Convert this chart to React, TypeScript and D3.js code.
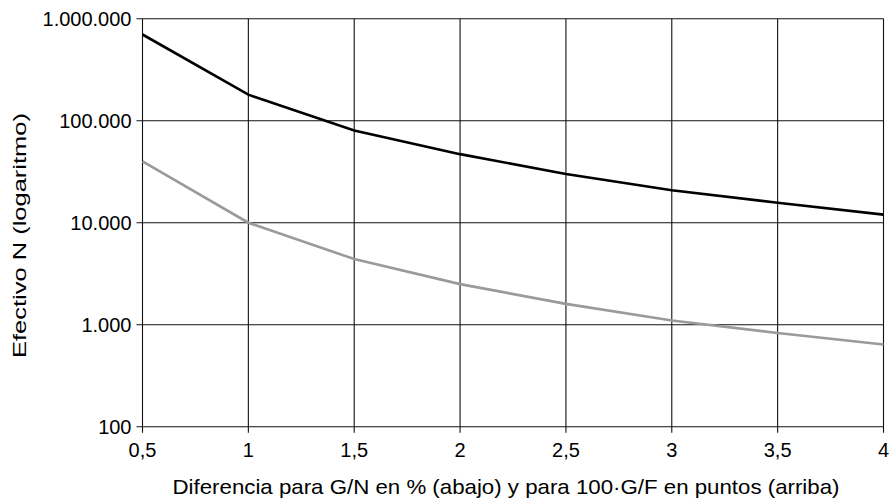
import React from "react";
import * as d3 from "d3";

const xValues = [0.5, 1, 1.5, 2, 2.5, 3, 3.5, 4];
const seriesGN = [700000, 180000, 80000, 47000, 30000, 20800, 15700, 12000];
const seriesGF = [40000, 10000, 4400, 2500, 1600, 1100, 830, 640];
const xTicks = [0.5, 1, 1.5, 2, 2.5, 3, 3.5, 4];
const yTicks = [100, 1000, 10000, 100000, 1000000];
const xLabel = "Diferencia para G/N en % (abajo) y para 100·G/F en puntos (arriba)";
const yLabel = "Efectivo N (logaritmo)";

const W = 893;
const H = 499;
const left = 142.5;
const right = 883.5;
const top = 18.7;
const bottom = 426.7;

const locale = d3.formatLocale({ decimal: ",", thousands: ".", grouping: [3], currency: ["", ""] });
const fmtY = locale.format(",d");
const fmtX = locale.format("~g");

export default function App() {
  const x = d3.scaleLinear().domain([0.5, 4]).range([left, right]);
  const y = d3.scaleLog().domain([100, 1000000]).range([bottom, top]);
  const line = d3
    .line<number>()
    .x((_, i) => x(xValues[i]))
    .y((d) => y(d));
  const font = "'Liberation Sans', Arial, Helvetica, sans-serif";
  return (
    <svg
      width={W}
      height={H}
      style={{ position: "absolute", left: 0, top: 0, background: "#fff" }}
      fontFamily={font}
    >
      <rect width={W} height={H} fill="#fff" />
      {xTicks.map((t) => (
        <g key={"x" + t}>
          <line x1={x(t)} x2={x(t)} y1={top} y2={bottom + 6} stroke="#111" strokeWidth={1.1} />
          <text x={x(t)} y={457} textAnchor="middle" fontSize={20} fill="#000">
            {fmtX(t)}
          </text>
        </g>
      ))}
      {yTicks.map((t) => (
        <g key={"y" + t}>
          <line x1={left - 6} x2={right} y1={y(t)} y2={y(t)} stroke="#111" strokeWidth={1.1} />
          <text x={131.5} y={y(t)} dy="0.36em" textAnchor="end" fontSize={20} fill="#000">
            {fmtY(t)}
          </text>
        </g>
      ))}
      <path d={line(seriesGF) || ""} fill="none" stroke="#9a9a9a" strokeWidth={2.6} />
      <path d={line(seriesGN) || ""} fill="none" stroke="#000" strokeWidth={2.6} />
      <text
        x={506}
        y={494}
        textAnchor="middle"
        fontSize={21}
        fill="#000"
        textLength={667}
        lengthAdjust="spacingAndGlyphs"
      >
        {xLabel}
      </text>
      <text
        transform={`translate(25.5,235.5) rotate(-90)`}
        textAnchor="middle"
        fontSize={18}
        fill="#000"
        textLength={245}
        lengthAdjust="spacingAndGlyphs"
      >
        {yLabel}
      </text>
    </svg>
  );
}
